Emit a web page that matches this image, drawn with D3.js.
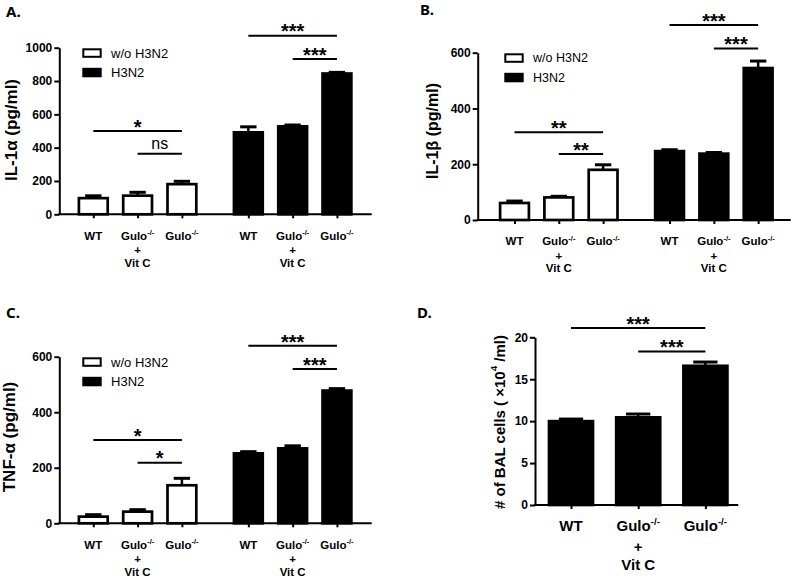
<!DOCTYPE html>
<html><head><meta charset="utf-8">
<script src="https://cdn.jsdelivr.net/npm/d3@7"></script>
<style>html,body{margin:0;padding:0;background:#fff}svg{display:block}</style>
</head><body><svg id="c" width="794" height="580"></svg>
<script>
// ---------------- data ----------------
const categories = ["WT", "Gulo^-/-|+|Vit C", "Gulo^-/-"];
const groups = ["w/o H3N2", "H3N2"];

const il1aMean = [97, 112, 181, 492, 528, 845];
const il1aErr  = [14, 20, 17, 33, 8, 7];
const il1bMean = [61, 81, 180, 247, 238, 545];
const il1bErr  = [7, 4, 18, 5, 4, 25];
const tnfaMean = [24, 42, 137, 252, 270, 478];
const tnfaErr  = [7, 7, 25, 6, 9, 7];
const balMean  = [10.0, 10.45, 16.6];
const balErr   = [0.25, 0.4, 0.45];

const ticksA  = [0, 200, 400, 600, 800, 1000];
const ticksBC = [0, 200, 400, 600];
const ticksD  = [0, 5, 10, 15, 20];

const sigA = [{a:0,b:2,level:500,label:"*"},{a:1,b:2,level:364,label:"ns"},{a:3,b:5,level:1072,label:"***"},{a:4,b:5,level:932,label:"***"}];
const sigB = [{a:0,b:2,level:315,label:"**"},{a:1,b:2,level:237,label:"**"},{a:3,b:5,level:699,label:"***"},{a:4,b:5,level:615,label:"***"}];
const sigC = [{a:0,b:2,level:300,label:"*"},{a:1,b:2,level:218,label:"*"},{a:3,b:5,level:639,label:"***"},{a:4,b:5,level:556,label:"***"}];
const sigD = [{a:0,b:2,level:21.1,label:"***"},{a:1,b:2,level:18.3,label:"***"}];

// ---------------- layout ----------------
const FONT = "'Liberation Sans', Arial, Helvetica, sans-serif";
const svg = d3.select("#c");

const panels = [
  {letter:"A.", lx:6, ly:16.5, mean:il1aMean, err:il1aErr, ticks:ticksA, max:1000, sig:sigA,
   yLabel:["IL-1α (pg/ml)"], labX:11, labY:130, labSize:17,
   x0:59.3, x1:371.7, c0:93.3, step:44.3, yTop:47.7, yZero:214.3, barW:31.5,
   legend:true, legDx:23, legSize:13, catSize:11.5, grouped:true},
  {letter:"B.", lx:420, ly:14.5, mean:il1bMean, err:il1bErr, ticks:ticksBC, max:600, sig:sigB,
   yLabel:["IL-1β (pg/ml)"], labX:432, labY:131, labSize:16,
   x0:477.7, x1:790.7, c0:514.5, step:44.3, yTop:52.7, yZero:220, barW:31.5,
   legend:true, legDx:26.6, legSize:12.5, catSize:11.5, grouped:true},
  {letter:"C.", lx:6, ly:317.5, mean:tnfaMean, err:tnfaErr, ticks:ticksBC, max:600, sig:sigC,
   yLabel:["TNF-α (pg/ml)"], labX:9.5, labY:437, labSize:17,
   x0:59.3, x1:371.7, c0:93.3, step:44.3, yTop:356.7, yZero:523.3, barW:31.5,
   legend:true, legDx:23, legSize:13, catSize:11.5, grouped:true},
  {letter:"D.", lx:417, ly:317.5, mean:balMean, err:balErr, ticks:ticksD, max:20, sig:sigD,
   yLabel:["# of BAL cells ( ×10", "4", " /ml)"], labX:499, labY:422, labSize:15,
   x0:535, x1:738.3, c0:571, step:67.2, yTop:337.3, yZero:505, barW:46.7,
   legend:false, catSize:15, grouped:false}
];

function slotOf(i, grouped) { return grouped ? Math.floor(i / 3) * 3.5 + (i % 3) : i; }

panels.forEach(p => {
  const g = svg.append("g");
  const x = d3.scaleLinear().domain([0, 1]).range([p.c0, p.c0 + p.step]);
  const y = d3.scaleLinear().domain([0, p.max]).range([p.yZero, p.yTop]);
  const sw = 2.7;

  // panel letter
  g.append("text").attr("x", p.lx).attr("y", p.ly).text(p.letter)
    .attr("font-family", "'Noto Sans', " + FONT).attr("font-weight", "bold").attr("font-size", 15);

  // bars
  const data = p.mean.map((m, i) => ({m, e: p.err[i], i, slot: slotOf(i, p.grouped), dark: !p.grouped || i >= 3}));
  g.selectAll("rect.bar").data(data).enter().append("rect").attr("class", "bar")
    .attr("x", d => x(d.slot) - (p.barW - sw) / 2)
    .attr("width", p.barW - sw)
    .attr("y", d => y(d.m))
    .attr("height", d => y(0) - y(d.m))
    .attr("fill", d => d.dark ? "#000" : "#fff")
    .attr("stroke", "#000").attr("stroke-width", sw);

  // error bars (upper only)
  const capW = p.barW * 0.52;
  data.forEach(d => {
    g.append("line").attr("x1", x(d.slot)).attr("x2", x(d.slot))
      .attr("y1", y(d.m)).attr("y2", y(d.m + d.e)).attr("stroke", "#000").attr("stroke-width", 2.5);
    g.append("line").attr("x1", x(d.slot) - capW / 2).attr("x2", x(d.slot) + capW / 2)
      .attr("y1", y(d.m + d.e)).attr("y2", y(d.m + d.e)).attr("stroke", "#000").attr("stroke-width", 3);
  });

  // y axis
  const ya = g.append("g").attr("transform", `translate(${p.x0},0)`)
    .call(d3.axisLeft(y).tickValues(p.ticks).tickSize(5).tickSizeOuter(0).tickPadding(2).tickFormat(d3.format("d")));
  ya.select(".domain").attr("stroke-width", 2);
  ya.selectAll(".tick line").attr("stroke-width", 2);
  ya.selectAll(".tick text").attr("font-family", FONT).attr("font-weight", "bold").attr("font-size", 12).attr("fill", "#000");

  // x axis
  const slots = data.map(d => d.slot);
  const xa = g.append("g").attr("transform", `translate(0,${p.yZero})`)
    .call(d3.axisBottom(x).tickValues(slots).tickSize(4).tickSizeOuter(0).tickFormat(""));
  xa.select(".domain").remove();
  xa.selectAll(".tick line").attr("stroke-width", 2);
  g.append("line").attr("x1", p.x0 - 1).attr("x2", p.x1).attr("y1", p.yZero).attr("y2", p.yZero)
    .attr("stroke", "#000").attr("stroke-width", 2);

  // category labels
  const big = !p.grouped;
  const offs = big ? [26, 47, 65] : [25.4, 40, 52.3];
  data.forEach(d => {
    const lines = categories[d.i % 3].split("|");
    lines.forEach((ln, k) => {
      const t = g.append("text").attr("x", x(d.slot)).attr("y", p.yZero + offs[k])
        .attr("text-anchor", "middle").attr("font-family", FONT).attr("font-weight", "bold")
        .attr("font-size", p.catSize);
      const parts = ln.split("^");
      t.append("tspan").text(parts[0]);
      if (parts[1]) {
        t.append("tspan").text(parts[1]).attr("font-size", p.catSize * 0.65).attr("dy", -p.catSize * 0.42);
      }
    });
  });

  // y label
  const yl = g.append("text").attr("transform", `translate(${p.labX},${p.labY}) rotate(-90)`)
    .attr("text-anchor", "middle").attr("dominant-baseline", "central")
    .attr("font-family", FONT).attr("font-weight", "bold").attr("font-size", p.labSize);
  if (p.yLabel.length === 1) yl.text(p.yLabel[0]);
  else {
    yl.append("tspan").text(p.yLabel[0]);
    yl.append("tspan").text(p.yLabel[1]).attr("font-size", p.labSize * 0.65).attr("dy", -p.labSize * 0.4);
    yl.append("tspan").text(p.yLabel[2]).attr("dy", p.labSize * 0.4);
  }

  // significance brackets
  p.sig.forEach(s => {
    const xa1 = x(slotOf(s.a, p.grouped)), xb = x(slotOf(s.b, p.grouped));
    const ly = y(s.level);
    g.append("line").attr("x1", xa1).attr("x2", xb).attr("y1", ly).attr("y2", ly)
      .attr("stroke", "#000").attr("stroke-width", 2);
    const isNs = s.label === "ns";
    g.append("text").attr("x", (xa1 + xb) / 2).attr("y", isNs ? ly - 4.5 : ly + 2.7)
      .attr("text-anchor", "middle").attr("font-family", FONT)
      .attr("font-weight", isNs ? "normal" : "bold").attr("font-size", isNs ? 16 : 20)
      .text(s.label);
  });

  // legend
  if (p.legend) {
    groups.forEach((name, k) => {
      const bx = p.x0 + p.legDx, by = p.yTop + 0.6 + k * 19.5;
      g.append("rect").attr("x", bx + 1).attr("y", by + 1).attr("width", 17.4).attr("height", 7.5)
        .attr("fill", k === 0 ? "#fff" : "#000").attr("stroke", "#000").attr("stroke-width", 2);
      g.append("text").attr("x", bx + 19.4 + 9.4).attr("y", by + 4.75)
        .attr("dominant-baseline", "central").attr("font-family", FONT).attr("font-size", p.legSize)
        .text(name);
    });
  }
});
</script>
</body></html>
